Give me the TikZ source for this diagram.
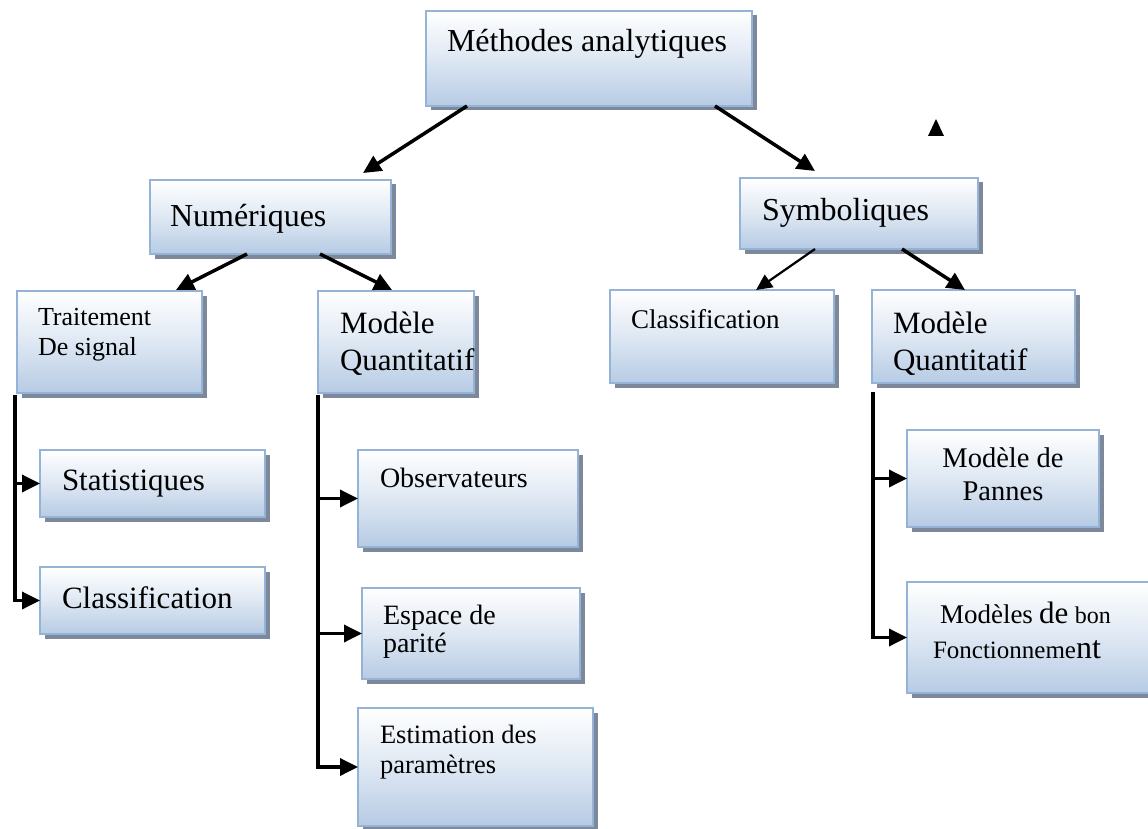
\documentclass[tikz,border=0pt]{standalone}
\usepackage{fontspec}
\setmainfont{Liberation Serif}
\usetikzlibrary{shadows,arrows.meta}

\definecolor{boxblue}{RGB}{182,203,228}
\definecolor{boxedge}{RGB}{149,179,215}
\definecolor{boxshadow}{RGB}{125,137,155}

\tikzset{
  panel/.style={draw=boxedge, line width=2pt,
    top color=white, bottom color=boxblue, middle color=boxblue!45!white,
    anchor=north west, inner sep=0pt, outer sep=0pt,
    drop shadow={shadow xshift=4.5pt, shadow yshift=-4.5pt, fill=boxshadow, opacity=1}},
  caption/.style={anchor=base west, inner sep=0pt, outer sep=0pt},
  ccaption/.style={anchor=base, inner sep=0pt, outer sep=0pt},
  link/.style={line width=3.5pt, -{Triangle[length=18pt,width=17pt]}},
  thinlink/.style={line width=2.2pt, -{Triangle[length=16pt,width=15pt]}},
}

% a box given by its top-left and bottom-right corners
\newcommand\panelbox[5]{%
  \node[panel, minimum width={#4-#2}, minimum height={#5-#3}] (#1) at (#2,#3) {};}
% two stacked lines, baseline on the first one
\newcommand\twolines[2]{\vtop{\hbox{#1}\hbox{#2}}}
\newcommand\twocentered[2]{\vtop{\hbox to 0pt{\hss#1\hss}\hbox to 0pt{\hss#2\hss}}}

\begin{document}
\begin{tikzpicture}[x=1pt,y=-1pt]
\useasboundingbox (0,0) rectangle (1148,829);

% ---- boxes
\panelbox{meth}{426}{11}{752}{106}
\panelbox{num}{150}{180}{391}{254}
\panelbox{sym}{740}{178}{978}{249}
\panelbox{trait}{17}{291}{202}{393}
\panelbox{modqL}{318}{291}{474}{393}
\panelbox{classR}{610}{290}{834}{383}
\panelbox{modqR}{872}{290}{1075}{383}
\panelbox{stat}{40}{450}{265}{517}
\panelbox{classL}{40}{567}{265}{634}
\panelbox{obs}{358}{450}{578}{547}
\panelbox{esp}{362}{588}{580}{679}
\panelbox{est}{358}{708}{593}{826}
\panelbox{pan}{907}{430}{1099}{527}
\panelbox{bon}{907}{582}{1160}{693}

% ---- texts
\node[caption, font=\fontsize{32}{36}\selectfont] (methT) at (447,52) {Méthodes analytiques};
\node[caption, font=\fontsize{32}{36}\selectfont] (numT) at (170,226) {Numériques};
\node[caption, font=\fontsize{32}{36}\selectfont] (symT) at (762,221) {Symboliques};
\node[caption, font=\fontsize{26}{30}\selectfont] (traitT) at (38,325) {\twolines{Traitement}{De signal}};
\node[caption, font=\fontsize{31}{37}\selectfont] (modqLT) at (340,333) {\twolines{Modèle}{Quantitatif}};
\node[caption, font=\fontsize{27}{32}\selectfont] (classRT) at (631,328) {Classification};
\node[caption, font=\fontsize{31}{37}\selectfont] (modqRT) at (893,333) {\twolines{Modèle}{Quantitatif}};
\node[caption, font=\fontsize{31}{36}\selectfont] (statT) at (62,490) {Statistiques};
\node[caption, font=\fontsize{31}{36}\selectfont] (classLT) at (62,608) {Classification};
\node[caption, font=\fontsize{28}{32}\selectfont] (obsT) at (380,487) {Observateurs};
\node[caption, font=\fontsize{28}{28}\selectfont] (espT) at (383,624) {\twolines{Espace de}{parité}};
\node[caption, font=\fontsize{26.5}{30}\selectfont] (estT) at (380,743) {\twolines{Estimation des}{paramètres}};
\node[ccaption, font=\fontsize{28.5}{33}\selectfont] (panT) at (1003,467) {\twocentered{Modèle de}{Pannes}};
\node[caption, font=\fontsize{25}{35}\selectfont] (bonT) at (933,623)
  {\twolines{\hspace*{7pt}{\fontsize{27}{35}\selectfont Modèles} {\fontsize{31}{35}\selectfont de} {\fontsize{24}{35}\selectfont bon}}%
            {Fonctionneme{\fontsize{32}{35}\selectfont nt}}};

% ---- tree links
\draw[link] ([xshift=41pt]meth.south west) -- ([xshift=213pt,yshift=7pt]num.north west);
\draw[link] ([xshift=289pt]meth.south west) -- ([xshift=75pt,yshift=7pt]sym.north west);
\draw[link] ([xshift=97pt]num.south west) -- ([xshift=159pt,yshift=1pt]trait.north west);
\draw[link] ([xshift=170pt]num.south west) -- ([xshift=74pt,yshift=1pt]modqL.north west);
\draw[thinlink] ([xshift=75pt]sym.south west) -- ([xshift=146pt]classR.north west);
\draw[link] ([xshift=162pt]sym.south west) -- ([xshift=93pt]modqR.north west);

% ---- bracket links
\coordinate (lspine) at ([xshift=-2pt,yshift=-2pt]trait.south west);
\draw[link] (lspine) |- (classL.west);
\draw[link] (lspine |- stat.west) -- (stat.west);

\coordinate (mspine) at ([yshift=-2pt]modqL.south west);
\draw[link] (mspine) |- (est.west);
\draw[link] (mspine |- obs.west) -- (obs.west);
\draw[link] (mspine |- esp.west) -- (esp.west);

\coordinate (rspine) at ([xshift=1pt,yshift=-9pt]modqR.south west);
\draw[link] (rspine) |- (bon.west);
\draw[link] (rspine |- pan.west) -- (pan.west);

% ---- small stray marker
\fill (936,119) -- (944,136) -- (928,136) -- cycle;
\end{tikzpicture}
\end{document}
